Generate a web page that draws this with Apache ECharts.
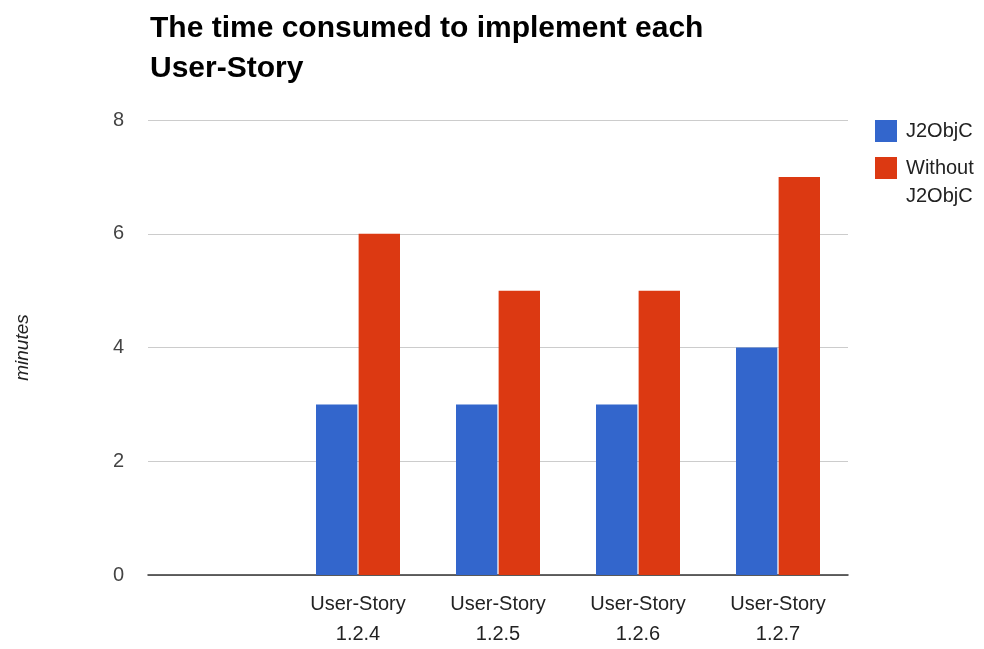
<!DOCTYPE html>
<html>
<head>
<meta charset="utf-8">
<script src="https://cdn.jsdelivr.net/npm/echarts@6/dist/echarts.min.js"></script>
<style>
html,body{margin:0;padding:0;background:#fff;}
#chart{width:984px;height:649px;}
</style>
</head>
<body>
<div id="chart"></div>
<script>
// categories (first slot is empty in the original chart)
var categories = ['', 'User-Story\n1.2.4', 'User-Story\n1.2.5', 'User-Story\n1.2.6', 'User-Story\n1.2.7'];
var j2objc = ['-', 3, 3, 3, 4];
var withoutJ2objc = ['-', 6, 5, 5, 7];
var seriesNames = ['J2ObjC', 'Without J2ObjC'];

var fontName = 'Liberation Sans, Arial, sans-serif';
var myChart = echarts.init(document.getElementById('chart'));
var option = {
	animation: false,
	backgroundColor: '#fff',
	title: {
		text: 'The time consumed to implement each\nUser-Story',
		left: 145,
		top: 4,
		textStyle: {
			fontFamily: fontName,
			fontSize: 30,
			fontWeight: 'bold',
			color: '#000',
			lineHeight: 40
		}
	},
	legend: {
		orient: 'vertical',
		left: 870,
		top: 112,
		itemWidth: 22,
		itemHeight: 22,
		itemGap: -19,
		icon: 'rect',
		data: seriesNames,
		// second entry wraps; empty first line keeps the box next to "Without"
		formatter: function(name){
			if(name.indexOf(' ') > 0){
				return '\n' + name.replace(' ', '\n');
			}
			return name;
		},
		textStyle: {
			fontFamily: fontName,
			fontSize: 20,
			color: '#222',
			lineHeight: 28,
			padding: [0, 0, 0, 4]
		}
	},
	grid: {
		left: 148,
		right: 136,
		top: 120,
		bottom: 72
	},
	xAxis: {
		type: 'category',
		data: categories,
		axisTick: {show: false},
		axisLine: {lineStyle: {color: '#333', width: 1.5}},
		axisLabel: {
			interval: 0,
			margin: 14,
			fontFamily: fontName,
			fontSize: 20,
			color: '#222',
			lineHeight: 30
		}
	},
	yAxis: {
		type: 'value',
		min: 0,
		max: 8,
		interval: 2,
		name: 'minutes',
		nameLocation: 'middle',
		nameGap: 116,
		nameTextStyle: {
			fontFamily: fontName,
			fontSize: 19,
			fontStyle: 'italic',
			color: '#222'
		},
		axisLine: {show: false},
		axisTick: {show: false},
		splitLine: {lineStyle: {color: '#ccc'}},
		axisLabel: {
			margin: 24,
			fontFamily: fontName,
			fontSize: 20,
			color: '#444'
		}
	},
	series: [
		{
			name: seriesNames[0],
			type: 'bar',
			data: j2objc,
			barGap: '3%',
			barCategoryGap: '40%',
			itemStyle: {color: '#3366cc'}
		},
		{
			name: seriesNames[1],
			type: 'bar',
			data: withoutJ2objc,
			itemStyle: {color: '#dc3912'}
		}
	]
};
myChart.setOption(option);
</script>
</body>
</html>
